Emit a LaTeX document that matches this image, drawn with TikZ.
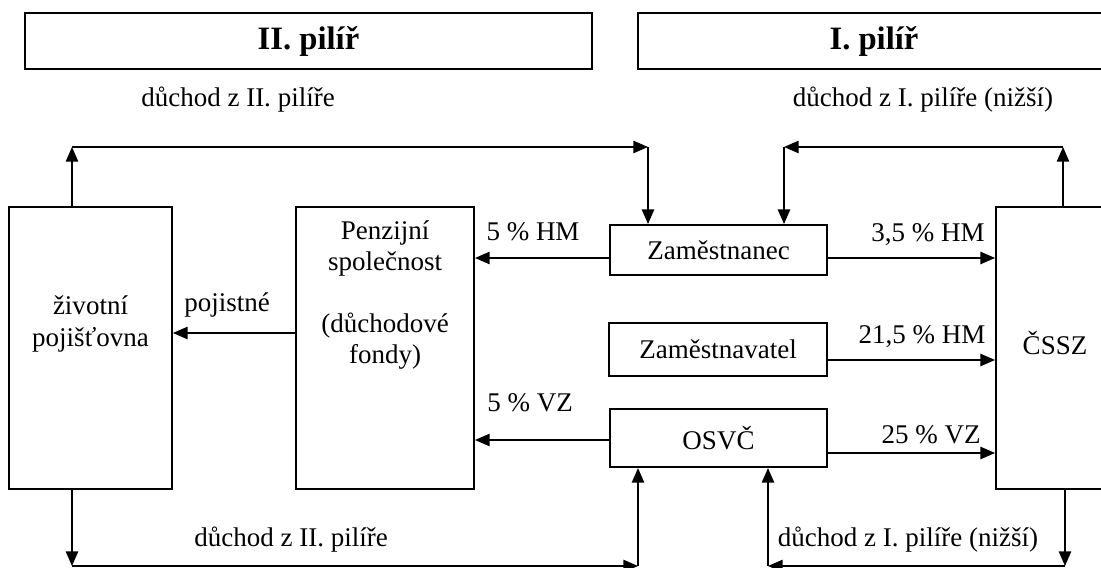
\documentclass[tikz,border=0pt]{standalone}
\usepackage{fontspec}
\setmainfont{Liberation Serif}
\usetikzlibrary{arrows.meta}
\begin{document}
\begin{tikzpicture}[x=0.4444pt,y=-0.4444pt,
  box/.style={draw,line width=0.9pt,inner sep=0pt,font=\fontsize{12}{13.8}\selectfont},
  arr/.style={line width=0.6pt,-{Triangle[length=6.5pt,width=5.5pt]}},
  lbl/.style={inner sep=0pt,font=\fontsize{12}{13.8}\selectfont},
  ]
\clip (0,0) rectangle (1101,568);
% pillar headers
\node[box, line width=1.1pt, minimum width=252pt, minimum height=24.9pt, font=\fontsize{14.5}{16}\selectfont\bfseries] (p2) at (308.5,41) {II. pilíř};
\node[box, line width=1.1pt, minimum width=209.8pt, minimum height=24.9pt, font=\fontsize{14.5}{16}\selectfont\bfseries] (p1) at (874,41) {I. pilíř};
\node[lbl] (t2) at (238,100) {důchod z II. pilíře};
\node[lbl] (t1) at (923,100) {důchod z I. pilíře (nižší)};
% main boxes
\node[box, minimum width=72.4pt, minimum height=125.3pt] (life) at (90.5,348) {};
\node[lbl, align=center] (lifetxt) at (90.5,324) {životní\\pojišťovna};
\node[box, minimum width=79.1pt, minimum height=125.3pt] (penz) at (385,348) {};
\node[lbl, align=center] (penztxt) at (385,295) {Penzijní\\společnost\\~\\(důchodové\\fondy)};
\node[box, minimum width=96.4pt, minimum height=22.2pt] (zam) at (718.5,250) {Zaměstnanec};
\node[box, minimum width=96.9pt, minimum height=23.5pt] (zav) at (718,349.5) {Zaměstnavatel};
\node[box, minimum width=96.4pt, minimum height=25.8pt] (osvc) at (718.5,438) {OSVČ};
\node[box, minimum width=52.4pt, minimum height=125.3pt] (cssz) at (1055,348) {};
\node[lbl] (cssztxt) at (1055,343) {ČSSZ};
% level coordinates
\coordinate (yA) at (0,258);
\coordinate (yB) at (0,360);
\coordinate (yC) at (0,440);
\coordinate (yD) at (0,453);
\coordinate (yP) at (0,333);
\coordinate (tl) at (72,147);
\coordinate (tm) at (648,147);
\coordinate (tn) at (784,147);
\coordinate (tr) at (1063,147);
\coordinate (bl) at (72,566);
\coordinate (bm) at (638,566);
\coordinate (bn) at (768,566);
\coordinate (br) at (1065,566);
% top connectors
\draw[arr] (tl |- life.north) -- (tl);
\draw[arr] (tl) -- (tm);
\draw[arr] (tm) -- (tm |- zam.north);
\draw[arr] (tr |- cssz.north) -- (tr);
\draw[arr] (tr) -- (tn);
\draw[arr] (tn) -- (tn |- zam.north);
% horizontal flows
\draw[arr] (zam.west |- yA) -- (penz.east |- yA);
\node[lbl] (l1) at (533,232) {5 \% HM};
\draw[arr] (zam.east |- yA) -- (cssz.west |- yA);
\node[lbl] (l2) at (928,235) {3,5 \% HM};
\draw[arr] (zav.east |- yB) -- (cssz.west |- yB);
\node[lbl] (l3) at (922,337) {21,5 \% HM};
\draw[arr] (osvc.west |- yC) -- (penz.east |- yC);
\node[lbl] (l4) at (530,403) {5 \% VZ};
\draw[arr] (osvc.east |- yD) -- (cssz.west |- yD);
\node[lbl] (l5) at (931,435) {25 \% VZ};
\draw[arr] (penz.west |- yP) -- (life.east |- yP);
\node[lbl] (l6) at (227,305) {pojistné};
% bottom connectors
\draw[arr] (bl |- life.south) -- (bl);
\draw[arr] (bl) -- (bm);
\draw[arr] (bm) -- (bm |- osvc.south);
\draw[arr] (br |- cssz.south) -- (br);
\draw[arr] (br) -- (bn);
\draw[arr] (bn) -- (bn |- osvc.south);
\node[lbl] (b2) at (291,540) {důchod z II. pilíře};
\node[lbl] (b1) at (908,540) {důchod z I. pilíře (nižší)};
\end{tikzpicture}
\end{document}
